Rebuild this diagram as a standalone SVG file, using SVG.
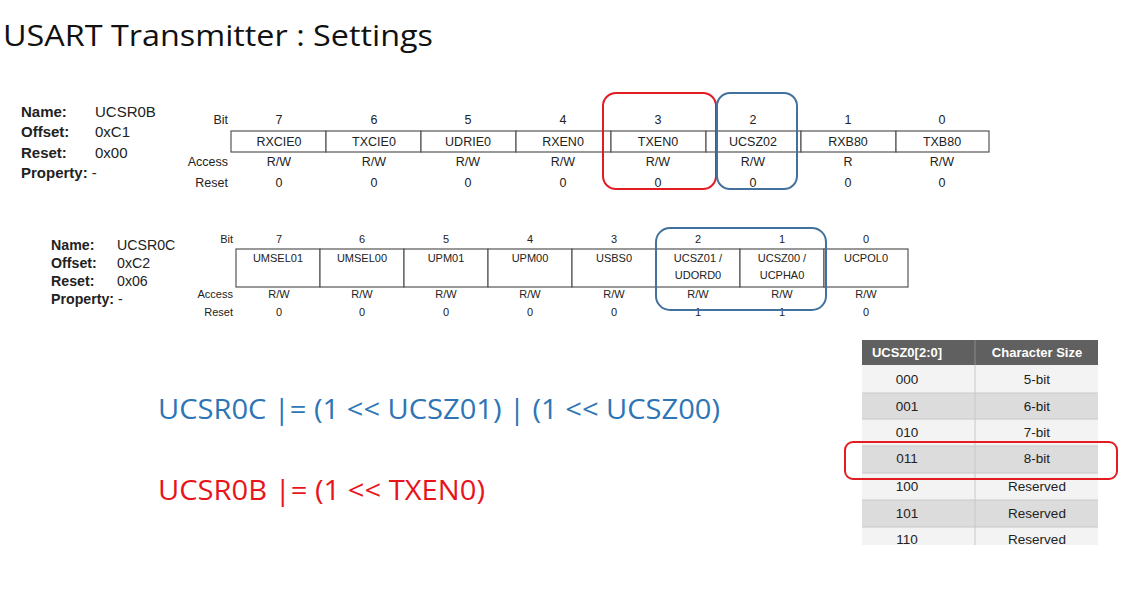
<svg xmlns="http://www.w3.org/2000/svg" width="1128" height="612" viewBox="0 0 1128 612">
<style>
.t{font-family:"Liberation Sans",Arial,sans-serif;fill:#222}
.b{font-weight:bold}
.r1{font-size:12.5px;text-anchor:middle}
.r2{font-size:11px;text-anchor:middle}
.lab1{font-size:12.5px;text-anchor:end}
.lab2{font-size:11px;text-anchor:end}
.cell{fill:#fff;stroke:#555;stroke-width:1.2}
.info1{font-size:15px}
.info2{font-size:14.2px}
.code{font-family:"Open Sans","Noto Sans",sans-serif;font-size:27px}
.tb{font-family:"Liberation Sans",Arial,sans-serif;font-size:13.5px;text-anchor:middle;fill:#222}
.th{font-family:"Liberation Sans",Arial,sans-serif;font-size:13px;font-weight:bold;text-anchor:middle;fill:#fff}
.hl-red{fill:none;stroke:#e31b23;stroke-width:2}
.hl-blue{fill:none;stroke:#41719c;stroke-width:2}
</style>
<rect width="1128" height="612" fill="#fff"/>

<g id="title">
<text x="3" y="46" font-family="'Open Sans','Noto Sans',sans-serif" font-size="29" fill="#111" textLength="430" lengthAdjust="spacingAndGlyphs">USART Transmitter : Settings</text>
</g>

<g id="ucsr0b-info" class="t info1">
<text x="21" y="117" class="b">Name:</text><text x="95" y="117">UCSR0B</text>
<text x="21" y="137" class="b">Offset:</text><text x="95" y="137">0xC1</text>
<text x="21" y="158" class="b">Reset:</text><text x="95" y="158">0x00</text>
<text x="21" y="178" class="b">Property: <tspan font-weight="normal">-</tspan></text>
</g>

<g id="ucsr0b-register" class="t">
<text x="228" y="124" class="lab1">Bit</text>
<text x="228" y="166" class="lab1">Access</text>
<text x="228" y="187" class="lab1">Reset</text>
<rect class="cell" x="231" y="131" width="95" height="21"/>
<rect class="cell" x="326" y="131" width="95" height="21"/>
<rect class="cell" x="421" y="131" width="95" height="21"/>
<rect class="cell" x="516" y="131" width="95" height="21"/>
<rect class="cell" x="611" y="131" width="95" height="21"/>
<rect class="cell" x="706" y="131" width="95" height="21"/>
<rect class="cell" x="801" y="131" width="95" height="21"/>
<rect class="cell" x="896" y="131" width="93" height="21"/>
<g class="r1">
<text x="279" y="124">7</text><text x="374" y="124">6</text><text x="468" y="124">5</text><text x="563" y="124">4</text><text x="658" y="124">3</text><text x="753" y="124">2</text><text x="848" y="124">1</text><text x="942" y="124">0</text>
<text x="279" y="146">RXCIE0</text><text x="374" y="146">TXCIE0</text><text x="468" y="146">UDRIE0</text><text x="563" y="146">RXEN0</text><text x="658" y="146">TXEN0</text><text x="753" y="146">UCSZ02</text><text x="848" y="146">RXB80</text><text x="942" y="146">TXB80</text>
<text x="279" y="166">R/W</text><text x="374" y="166">R/W</text><text x="468" y="166">R/W</text><text x="563" y="166">R/W</text><text x="658" y="166">R/W</text><text x="753" y="166">R/W</text><text x="848" y="166">R</text><text x="942" y="166">R/W</text>
<text x="279" y="187">0</text><text x="374" y="187">0</text><text x="468" y="187">0</text><text x="563" y="187">0</text><text x="658" y="187">0</text><text x="753" y="187">0</text><text x="848" y="187">0</text><text x="942" y="187">0</text>
</g>
</g>

<g id="ucsr0c-info" class="t info2">
<text x="51" y="250" class="b">Name:</text><text x="117" y="250">UCSR0C</text>
<text x="51" y="268" class="b">Offset:</text><text x="117" y="268">0xC2</text>
<text x="51" y="286" class="b">Reset:</text><text x="117" y="286">0x06</text>
<text x="51" y="304" class="b">Property: <tspan font-weight="normal">-</tspan></text>
</g>

<g id="ucsr0c-register" class="t">
<text x="233" y="243" class="lab2">Bit</text>
<text x="233" y="298" class="lab2">Access</text>
<text x="233" y="316" class="lab2">Reset</text>
<rect class="cell" x="236" y="249" width="84" height="38"/>
<rect class="cell" x="320" y="249" width="84" height="38"/>
<rect class="cell" x="404" y="249" width="84" height="38"/>
<rect class="cell" x="488" y="249" width="84" height="38"/>
<rect class="cell" x="572" y="249" width="84" height="38"/>
<rect class="cell" x="656" y="249" width="84" height="38"/>
<rect class="cell" x="740" y="249" width="84" height="38"/>
<rect class="cell" x="824" y="249" width="84" height="38"/>
<g class="r2">
<text x="279" y="243">7</text><text x="362" y="243">6</text><text x="446" y="243">5</text><text x="530" y="243">4</text><text x="614" y="243">3</text><text x="698" y="243">2</text><text x="782" y="243">1</text><text x="866" y="243">0</text>
<text x="278" y="262">UMSEL01</text><text x="362" y="262">UMSEL00</text><text x="446" y="262">UPM01</text><text x="530" y="262">UPM00</text><text x="614" y="262">USBS0</text><text x="698" y="262">UCSZ01 /</text><text x="782" y="262">UCSZ00 /</text><text x="866" y="262">UCPOL0</text>
<text x="698" y="279">UDORD0</text><text x="782" y="279">UCPHA0</text>
<text x="279" y="298">R/W</text><text x="362" y="298">R/W</text><text x="446" y="298">R/W</text><text x="530" y="298">R/W</text><text x="614" y="298">R/W</text><text x="698" y="298">R/W</text><text x="782" y="298">R/W</text><text x="866" y="298">R/W</text>
<text x="279" y="316">0</text><text x="362" y="316">0</text><text x="446" y="316">0</text><text x="530" y="316">0</text><text x="614" y="316">0</text><text x="698" y="316">1</text><text x="782" y="316">1</text><text x="866" y="316">0</text>
</g>
</g>

<g id="ucsz-table">
<rect x="862" y="340" width="236" height="25" fill="#606060"/>
<line x1="975" y1="340" x2="975" y2="365" stroke="#8a8a8a" stroke-width="1"/>
<text class="th" x="907" y="357">UCSZ0[2:0]</text>
<text class="th" x="1037" y="357">Character Size</text>
<rect x="862" y="365" width="236" height="28" fill="#f3f3f3"/>
<rect x="862" y="393" width="236" height="26" fill="#dcdcdc"/>
<rect x="862" y="419" width="236" height="27" fill="#f3f3f3"/>
<rect x="862" y="446" width="236" height="27" fill="#dcdcdc"/>
<rect x="862" y="473" width="236" height="27" fill="#f3f3f3"/>
<rect x="862" y="500" width="236" height="27" fill="#dcdcdc"/>
<rect x="862" y="527" width="236" height="18" fill="#f3f3f3"/>
<g stroke="#c8c8c8" stroke-width="1">
<line x1="975" y1="365" x2="975" y2="545"/>
<line x1="862" y1="393" x2="1098" y2="393"/>
<line x1="862" y1="419" x2="1098" y2="419"/>
<line x1="862" y1="446" x2="1098" y2="446"/>
<line x1="862" y1="473" x2="1098" y2="473"/>
<line x1="862" y1="500" x2="1098" y2="500"/>
<line x1="862" y1="527" x2="1098" y2="527"/>
</g>
<text class="tb" x="907" y="384">000</text><text class="tb" x="1037" y="384">5-bit</text>
<text class="tb" x="907" y="411">001</text><text class="tb" x="1037" y="411">6-bit</text>
<text class="tb" x="907" y="437">010</text><text class="tb" x="1037" y="437">7-bit</text>
<text class="tb" x="907" y="463">011</text><text class="tb" x="1037" y="463">8-bit</text>
<text class="tb" x="907" y="491">100</text><text class="tb" x="1037" y="491">Reserved</text>
<text class="tb" x="907" y="518">101</text><text class="tb" x="1037" y="518">Reserved</text>
<text class="tb" x="907" y="544">110</text><text class="tb" x="1037" y="544">Reserved</text>
<rect x="862" y="545" width="240" height="10" fill="#fff"/>
</g>

<g id="code">
<text class="code" x="158" y="419" fill="#2e75b6" textLength="562" lengthAdjust="spacingAndGlyphs">UCSR0C |= (1 &lt;&lt; UCSZ01) | (1 &lt;&lt; UCSZ00)</text>
<text class="code" x="158" y="500" fill="#e8141b" textLength="327" lengthAdjust="spacingAndGlyphs">UCSR0B |= (1 &lt;&lt; TXEN0)</text>
</g>

<g id="highlights">
<rect class="hl-red" x="603" y="93" width="113" height="96" rx="13"/>
<rect class="hl-blue" x="717" y="93" width="80" height="96" rx="13"/>
<rect class="hl-blue" x="656" y="228" width="170" height="82" rx="14"/>
<rect class="hl-red" x="845" y="442" width="272" height="37" rx="8"/>
</g>
</svg>
